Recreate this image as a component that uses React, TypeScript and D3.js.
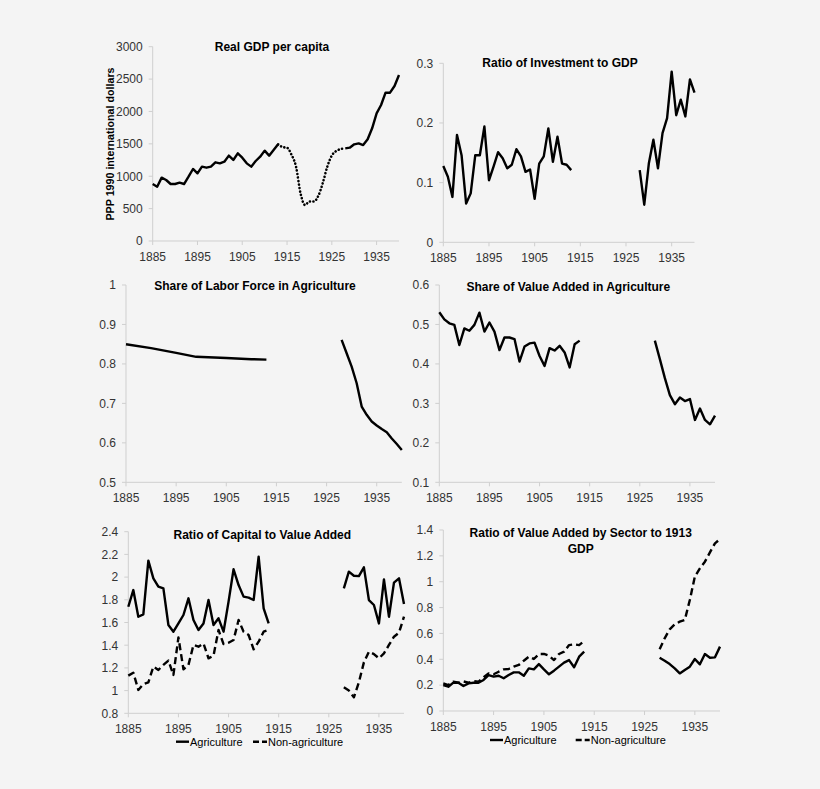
import React from "react";
import * as d3 from "d3";

// ---------- categories ----------
const earlyYears = [1885,1886,1887,1888,1889,1890,1891,1892,1893,1894,1895,1896,1897,1898,1899,1900,1901,1902,1903,1904,1905,1906,1907,1908,1909,1910,1911,1912,1913];
const warYears = [1913,1914,1915,1916,1917,1918,1919,1920,1921,1922,1923,1924,1925,1926,1927,1928];
const lateYears = [1928,1929,1930,1931,1932,1933,1934,1935,1936,1937,1938,1939,1940];
const laborEarlyYears = [1885,1890,1895,1899,1905,1910,1913];
const xTicks = [1885,1895,1905,1915,1925,1935];

// ---------- series ----------
const gdpEarly = [880,839,978,942,880,880,900,880,993,1112,1045,1148,1132,1148,1215,1199,1225,1318,1251,1354,1287,1199,1148,1235,1302,1395,1318,1405,1493];
const gdpWar = [1493,1450,1440,1330,1150,740,556,610,610,700,900,1150,1320,1390,1420,1431];
const gdpLate = [1431,1441,1493,1508,1482,1570,1740,1971,2100,2290,2290,2393,2563];

const invEarly = [0.128,0.110,0.076,0.180,0.146,0.065,0.082,0.146,0.146,0.194,0.104,0.127,0.151,0.141,0.124,0.130,0.156,0.144,0.118,0.122,0.073,0.132,0.144,0.191,0.135,0.177,0.132,0.130,0.121];
const invLate = [0.121,0.063,0.132,0.172,0.124,0.183,0.208,0.286,0.213,0.239,0.211,0.273,0.251];

const laborEarly = [0.850,0.840,0.828,0.818,0.815,0.812,0.811];
const laborLate = [0.861,0.827,0.793,0.751,0.692,0.671,0.654,0.644,0.635,0.627,0.611,0.597,0.582];

const vaAgEarly = [0.531,0.513,0.503,0.499,0.448,0.490,0.484,0.499,0.530,0.482,0.505,0.482,0.435,0.467,0.467,0.463,0.406,0.444,0.452,0.454,0.420,0.395,0.440,0.434,0.446,0.429,0.391,0.450,0.459];
const vaAgLate = [0.459,0.412,0.364,0.321,0.298,0.315,0.306,0.311,0.258,0.287,0.258,0.247,0.269];

const capAgEarly = [1.739,1.886,1.651,1.672,2.145,1.989,1.916,1.901,1.578,1.519,1.592,1.666,1.813,1.622,1.534,1.592,1.798,1.578,1.637,1.519,1.784,2.069,1.930,1.828,1.819,1.798,2.180,1.725,1.592];
const capAgLate = [1.901,2.048,2.012,2.009,2.086,1.798,1.754,1.592,1.980,1.651,1.951,1.989,1.763];
const capNonEarly = [1.132,1.158,1.006,1.058,1.073,1.211,1.182,1.226,1.264,1.138,1.469,1.188,1.226,1.402,1.387,1.416,1.284,1.308,1.534,1.410,1.422,1.446,1.622,1.519,1.490,1.364,1.431,1.519,1.534];
const capNonLate = [1.029,1.000,0.941,1.073,1.249,1.343,1.322,1.284,1.328,1.402,1.475,1.510,1.651];

const secAgEarly = [0.201,0.188,0.219,0.219,0.193,0.214,0.219,0.219,0.240,0.278,0.266,0.273,0.253,0.278,0.299,0.299,0.273,0.330,0.322,0.363,0.322,0.284,0.312,0.343,0.374,0.394,0.338,0.420,0.459];
const secAgLate = [0.412,0.389,0.363,0.330,0.291,0.317,0.343,0.402,0.361,0.441,0.412,0.415,0.498];
const secNonEarly = [0.214,0.201,0.227,0.219,0.229,0.219,0.232,0.227,0.260,0.291,0.284,0.304,0.322,0.325,0.343,0.356,0.389,0.420,0.402,0.441,0.441,0.428,0.394,0.441,0.459,0.510,0.516,0.510,0.541];
const secNonLate = [0.477,0.562,0.632,0.670,0.691,0.704,0.858,1.039,1.103,1.155,1.227,1.297,1.330];

// ---------- tick labels ----------
const gdpTicks = [0,500,1000,1500,2000,2500,3000];
const invTicks = [0,0.1,0.2,0.3];
const laborTicks = [0.5,0.6,0.7,0.8,0.9,1];
const vaTicks = [0.1,0.2,0.3,0.4,0.5,0.6];
const capTicks = [0.8,1,1.2,1.4,1.6,1.8,2,2.2,2.4];
const secTicks = [0,0.2,0.4,0.6,0.8,1,1.2,1.4];

const FONT = "'Liberation Sans', Arial, sans-serif";

type S = { years: number[]; values: number[]; kind: "solid" | "dash" | "dot" };
type PanelDef = {
  x0: number; x1: number; yTop: number; yBot: number;
  ticks: number[]; title: string[]; tx: number; ty: number;
  series: S[];
};

const panels: PanelDef[] = [
  { x0: 152.7, x1: 399, yTop: 46.7, yBot: 241, ticks: gdpTicks, title: ["Real GDP per capita"], tx: 272, ty: 51,
    series: [
      { years: earlyYears, values: gdpEarly, kind: "solid" },
      { years: warYears, values: gdpWar, kind: "dot" },
      { years: lateYears, values: gdpLate, kind: "solid" },
    ] },
  { x0: 443.3, x1: 694.5, yTop: 63.3, yBot: 242.3, ticks: invTicks, title: ["Ratio of Investment to GDP"], tx: 560, ty: 67.3,
    series: [
      { years: earlyYears, values: invEarly, kind: "solid" },
      { years: lateYears, values: invLate, kind: "solid" },
    ] },
  { x0: 126, x1: 401.8, yTop: 285, yBot: 482.3, ticks: laborTicks, title: ["Share of Labor Force in Agriculture"], tx: 255, ty: 290,
    series: [
      { years: laborEarlyYears, values: laborEarly, kind: "solid" },
      { years: lateYears, values: laborLate, kind: "solid" },
    ] },
  { x0: 439.3, x1: 715, yTop: 285, yBot: 482.3, ticks: vaTicks, title: ["Share of Value Added in Agriculture"], tx: 568.3, ty: 290.7,
    series: [
      { years: earlyYears, values: vaAgEarly, kind: "solid" },
      { years: lateYears, values: vaAgLate, kind: "solid" },
    ] },
  { x0: 128.3, x1: 404, yTop: 531.7, yBot: 713.3, ticks: capTicks, title: ["Ratio of Capital to Value Added"], tx: 262.3, ty: 539.3,
    series: [
      { years: earlyYears, values: capAgEarly, kind: "solid" },
      { years: lateYears, values: capAgLate, kind: "solid" },
      { years: earlyYears, values: capNonEarly, kind: "dash" },
      { years: lateYears, values: capNonLate, kind: "dash" },
    ] },
  { x0: 443.3, x1: 720, yTop: 530, yBot: 711, ticks: secTicks, title: ["Ratio of Value Added by Sector to 1913", "GDP"], tx: 580.7, ty: 536.7,
    series: [
      { years: earlyYears, values: secAgEarly, kind: "solid" },
      { years: lateYears, values: secAgLate, kind: "solid" },
      { years: earlyYears, values: secNonEarly, kind: "dash" },
      { years: lateYears, values: secNonLate, kind: "dash" },
    ] },
];

const legends = [
  { x: 176, y: 741.7, gap: 77 },
  { x: 490, y: 740, gap: 85.7 },
];

function Panel({ p }: { p: PanelDef }) {
  const x = d3.scaleLinear().domain([1885, 1940]).range([p.x0, p.x1]);
  const y = d3.scaleLinear().domain([p.ticks[0], p.ticks[p.ticks.length - 1]]).range([p.yBot, p.yTop]);
  const axisColor = "#cfcfcf";
  return (
    <g>
      <line x1={p.x0} x2={p.x0} y1={p.yTop} y2={p.yBot} stroke={axisColor} strokeWidth={1} />
      <line x1={p.x0} x2={p.x1} y1={p.yBot} y2={p.yBot} stroke={axisColor} strokeWidth={1} />
      {p.ticks.map((t) => (
        <g key={"y" + t}>
          <line x1={p.x0 - 4} x2={p.x0} y1={y(t)} y2={y(t)} stroke={axisColor} />
          <text x={p.x0 - 10} y={y(t)} dy="0.36em" textAnchor="end" fontSize={12} fill="#333" fontFamily={FONT}>{String(t)}</text>
        </g>
      ))}
      {xTicks.map((t) => (
        <g key={"x" + t}>
          <line x1={x(t)} x2={x(t)} y1={p.yBot} y2={p.yBot + 4} stroke={axisColor} />
          <text x={x(t)} y={p.yBot + 19.5} textAnchor="middle" fontSize={12} fill="#333" fontFamily={FONT}>{t}</text>
        </g>
      ))}
      {p.series.map((s, i) => {
        const pts = s.years.map((yr, j) => [yr, s.values[j]] as [number, number]);
        const gen = d3.line<[number, number]>()
          .x((d) => x(d[0]))
          .y((d) => y(d[1]))
          .curve(s.kind === "dot" ? d3.curveMonotoneX : d3.curveLinear);
        const dash = s.kind === "dash" ? "7,4" : s.kind === "dot" ? "0.1,3.4" : undefined;
        return (
          <path key={i} d={gen(pts) || ""} fill="none" stroke="#000" strokeWidth={s.kind === "dot" ? 2.6 : 2.4}
            strokeDasharray={dash} strokeLinecap={s.kind === "dot" ? "round" : "butt"} strokeLinejoin="round" />
        );
      })}
      {p.title.map((line, i) => (
        <text key={i} x={p.tx} y={p.ty + i * 16.6} textAnchor="middle" fontSize={12} fontWeight="bold" fill="#000" fontFamily={FONT}>{line}</text>
      ))}
    </g>
  );
}

export default function App() {
  return (
    <svg width={820} height={789} style={{ position: "absolute", left: 0, top: 0, display: "block" }}>
      <rect x={0} y={0} width={820} height={789} fill="#f4f4f4" />
      {panels.map((p, i) => <Panel key={i} p={p} />)}
      <text transform="translate(114,144) rotate(-90)" textAnchor="middle" fontSize={10.7} fontWeight="bold" fill="#000" fontFamily={FONT}>PPP 1990 international dollars</text>
      {legends.map((l, i) => (
        <g key={i} fontFamily={FONT} fontSize={11} fill="#000">
          <line x1={l.x} x2={l.x + 13} y1={l.y} y2={l.y} stroke="#000" strokeWidth={2.4} />
          <text x={l.x + 14} y={l.y} dy="0.36em">Agriculture</text>
          <line x1={l.x + l.gap} x2={l.x + l.gap + 14} y1={l.y} y2={l.y} stroke="#000" strokeWidth={2.4} strokeDasharray="6,3" />
          <text x={l.x + l.gap + 15} y={l.y} dy="0.36em">Non-agriculture</text>
        </g>
      ))}
    </svg>
  );
}
